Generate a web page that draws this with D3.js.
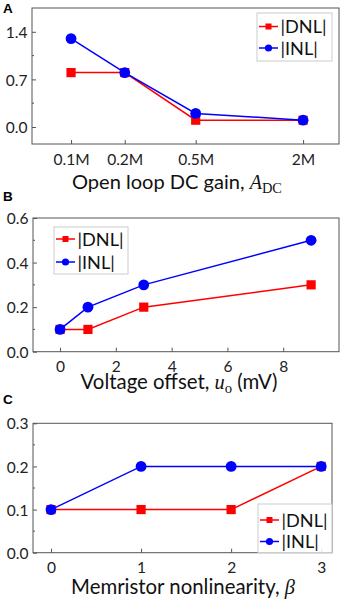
<!DOCTYPE html>
<html><head><meta charset="utf-8">
<script src="https://cdn.jsdelivr.net/npm/d3@7"></script>
<style>body{margin:0;background:#fff}svg{display:block}</style>
</head><body>
<svg id="c" width="340" height="600"></svg>
<script>
// Panel A
const gainX = [1e5, 2e5, 5e5, 2e6];
const gainTickLabels = ["0.1M", "0.2M", "0.5M", "2M"];
const gainDNL = [0.8, 0.8, 0.1, 0.1];
const gainINL = [1.3, 0.8, 0.2, 0.1];
const gainYTicks = [0.0, 0.7, 1.4];
// Panel B
const offsetX = [0, 1, 3, 9];
const offsetDNL = [0.1, 0.1, 0.2, 0.3];
const offsetINL = [0.1, 0.2, 0.3, 0.5];
const offsetXTicks = [0, 2, 4, 6, 8];
const offsetYTicks = [0.0, 0.2, 0.4, 0.6];
// Panel C
const betaX = [0, 1, 2, 3];
const betaDNL = [0.1, 0.1, 0.1, 0.2];
const betaINL = [0.1, 0.2, 0.2, 0.2];
const betaXTicks = [0, 1, 2, 3];
const betaYTicks = [0.0, 0.1, 0.2, 0.3];
const seriesNames = ["|DNL|", "|INL|"];

const RED = "#ff0000", BLUE = "#0000ff", FRAME = "#555";
const svg = d3.select("#c");
const TF = "Lato, 'Open Sans', sans-serif";
const SERIF = "'Liberation Serif', 'DejaVu Serif', serif";

function sizeFor(str, target, family) {
  const t = svg.append("text").attr("font-family", family).attr("font-size", 20).text(str);
  const w = t.node().getComputedTextLength();
  t.remove();
  return 20 * target / w;
}
const TICK_FS = sizeFor("0.7", 21.7, TF);
const LEG_FS = sizeFor("|DNL|", 46, TF);

function panel(o) {
  const g = svg.append("g");
  const x = o.x, y = o.y;
  const [x0, x1] = x.range(), [y0, y1] = y.range();
  g.append("rect").attr("x", x0).attr("y", y1).attr("width", x1 - x0).attr("height", y0 - y1)
    .attr("fill", "none").attr("stroke", FRAME).attr("stroke-width", 1);
  const xa = d3.axisBottom(x).tickValues(o.xTicks).tickSizeInner(-4).tickSizeOuter(0)
    .tickFormat((d, i) => o.xFmt ? o.xFmt(d, i) : d3.format("d")(d));
  const gx = g.append("g").attr("transform", `translate(0,${y0})`).call(xa);
  gx.select(".domain").remove();
  gx.selectAll(".tick line").attr("stroke", FRAME);
  gx.selectAll(".tick text").attr("font-family", TF).attr("font-size", TICK_FS).attr("fill", "#222")
    .attr("y", o.xLabDy).attr("dy", 0);
  const ya = d3.axisLeft(y).tickValues(o.yTicks).tickSizeInner(-4).tickSizeOuter(0)
    .tickFormat(d3.format(".1f"));
  const gy = g.append("g").attr("transform", `translate(${x0},0)`).call(ya);
  gy.select(".domain").remove();
  gy.selectAll(".tick line").attr("stroke", FRAME);
  gy.selectAll(".tick text").attr("font-family", TF).attr("font-size", TICK_FS).attr("fill", "#222")
    .attr("x", -4.5).attr("dy", "0.36em");
  g.selectAll(".myt").data(o.yMinor).join("line")
    .attr("x1", x0).attr("x2", x0 + 2).attr("y1", d => y(d)).attr("y2", d => y(d))
    .attr("stroke", FRAME);
  const line = d3.line().x((d, i) => x(o.xs[i])).y(d => y(d));
  g.append("path").datum(o.dnl).attr("d", line).attr("fill", "none").attr("stroke", RED).attr("stroke-width", 1.5);
  g.selectAll(".sq").data(o.dnl).join("rect")
    .attr("x", (d, i) => x(o.xs[i]) - 4.6).attr("y", d => y(d) - 4.6)
    .attr("width", 9.2).attr("height", 9.2).attr("fill", RED);
  g.append("path").datum(o.inl).attr("d", line).attr("fill", "none").attr("stroke", BLUE).attr("stroke-width", 1.5);
  g.selectAll(".ci").data(o.inl).join("circle")
    .attr("cx", (d, i) => x(o.xs[i])).attr("cy", d => y(d)).attr("r", 5.4).attr("fill", BLUE);
  const L = o.legend;
  const lg = g.append("g").attr("transform", `translate(${L.x},${L.y})`);
  lg.append("rect").attr("x", 0).attr("y", 0).attr("width", L.w).attr("height", L.h)
    .attr("fill", "rgba(255,255,255,0.85)").attr("stroke", "#ccc").attr("stroke-width", 1);
  [RED, BLUE].forEach((c, i) => {
    const cy = L.r0 + i * L.dr;
    lg.append("line").attr("x1", 2).attr("x2", 21).attr("y1", cy).attr("y2", cy).attr("stroke", c).attr("stroke-width", 1.5);
    if (i === 0) lg.append("rect").attr("x", 11.5 - 3).attr("y", cy - 3).attr("width", 6).attr("height", 6).attr("fill", c);
    else lg.append("circle").attr("cx", 11.5).attr("cy", cy).attr("r", 3.6).attr("fill", c);
    lg.append("text").attr("x", 23.5).attr("y", cy).attr("dy", "0.36em")
      .attr("font-family", TF).attr("font-size", LEG_FS).attr("fill", "#111").text(seriesNames[i]);
  });
  const t = g.append("text").attr("x", o.lab.x).attr("y", o.lab.y).attr("text-anchor", "middle")
    .attr("font-family", TF).attr("font-size", 20).attr("fill", "#111");
  o.lab.parts.forEach(p => {
    const s = t.append("tspan").text(p.t);
    if (p.f) s.attr("font-family", p.f);
    if (p.it) s.attr("font-style", "italic");
    if (p.sub) s.attr("font-size", "0.72em").attr("dy", "0.25em");
    if (p.up) s.attr("dy", "-0.18em");
  });
  const w = t.node().getComputedTextLength();
  t.attr("font-size", 20 * o.lab.w / w);
  svg.append("text").attr("x", 3).attr("y", o.letterY).attr("font-family", "'Liberation Sans', Arial, sans-serif")
    .attr("font-weight", "bold").attr("font-size", 13.5).attr("fill", "#000").text(o.letter);
}

panel({
  x: d3.scaleLog().domain([60400, 3.18e6]).range([32, 339]),
  y: d3.scaleLinear().domain([-0.25, 1.75]).range([144, 8]),
  xs: gainX, dnl: gainDNL, inl: gainINL,
  xTicks: gainX, xFmt: (d, i) => gainTickLabels[i], xLabDy: 20.5,
  yTicks: gainYTicks, yMinor: [0.35, 1.05],
  legend: {x: 257, y: 13, w: 75, h: 48, r0: 13.5, dr: 21.5},
  lab: {x: 177, y: 189, w: 210, parts: [{t: "Open loop DC gain, "}, {t: "A", f: SERIF, it: true}, {t: "DC", f: SERIF, sub: true}]},
  letter: "A", letterY: 13
});

panel({
  x: d3.scaleLinear().domain([-0.97, 10]).range([33, 339]),
  y: d3.scaleLinear().domain([0, 0.6]).range([351.7, 218]),
  xs: offsetX, dnl: offsetDNL, inl: offsetINL,
  xTicks: offsetXTicks, xLabDy: 20,
  yTicks: offsetYTicks, yMinor: [0.1, 0.3, 0.5],
  legend: {x: 54, y: 227, w: 74, h: 47, r0: 12, dr: 23},
  lab: {x: 179, y: 389, w: 197, parts: [{t: "Voltage offset, "}, {t: "u", f: SERIF, it: true}, {t: "o", f: SERIF, sub: true}, {t: " (mV)", up: true}]},
  letter: "B", letterY: 201
});

panel({
  x: d3.scaleLinear().domain([-0.2, 3.12]).range([33, 332]),
  y: d3.scaleLinear().domain([0, 0.3]).range([552.7, 423.3]),
  xs: betaX, dnl: betaDNL, inl: betaINL,
  xTicks: betaXTicks, xLabDy: 20,
  yTicks: betaYTicks, yMinor: [0.05, 0.15, 0.25],
  legend: {x: 258, y: 504, w: 74, h: 48.5, r0: 16, dr: 21.5},
  lab: {x: 183, y: 594, w: 224, parts: [{t: "Memristor nonlinearity, "}, {t: "β", f: SERIF, it: true}]},
  letter: "C", letterY: 404
});
</script>
</body></html>
